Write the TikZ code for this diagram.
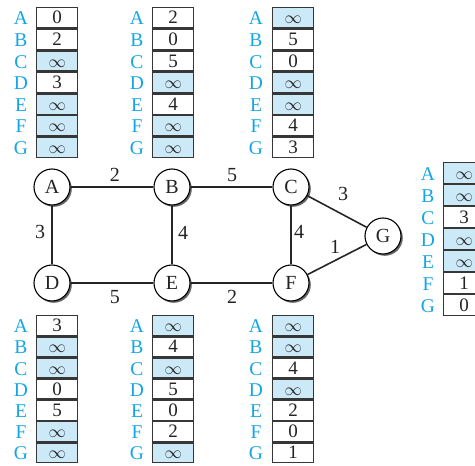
\documentclass[tikz,border=0pt]{standalone}
\usepackage{fontspec}
\setmainfont{Liberation Serif}
\usetikzlibrary{shadows}
\definecolor{lblblue}{RGB}{20,165,230}
\definecolor{cellfill}{RGB}{204,233,248}
\definecolor{celldraw}{RGB}{55,55,55}
\definecolor{txt}{RGB}{35,35,35}
\tikzset{
  vertex/.style={circle,draw=black,line width=1.1pt,fill=white,minimum size=36pt,inner sep=0pt,
    font=\fontsize{20}{20}\selectfont,text=txt,
    drop shadow={shadow xshift=1.8pt,shadow yshift=-1.8pt,fill=black!70,opacity=0.85}},
  edge/.style={line width=1.6pt,draw=black!85},
  wlabel/.style={font=\fontsize{20}{20}\selectfont,text=txt,inner sep=0pt},
  cell/.style={draw=celldraw,line width=1.3pt,minimum width=41pt,inner sep=0pt,anchor=west,
    font=\fontsize{19}{19}\selectfont,text=txt,text height=12pt,text depth=0pt},
  infcell/.style={cell,fill=cellfill},
  numcell/.style={cell,fill=white},
  rowlabel/.style={font=\fontsize{19.5}{19.5}\selectfont,text=lblblue,inner sep=0pt,
    text height=13pt,text depth=0pt}
}
% #1 name, #2 label x, #3 cell left x, #4 top y, #5 row height, #6 values
\newcommand\disttable[6]{%
  \foreach \v [count=\i] in {#6} {
    \pgfmathsetmacro\ymid{#4+(\i-0.5)*#5}
    \pgfmathsetmacro\hh{#5-1.4}
    \ifnum\pdfstrcmp{\v}{i}=0
      \node[infcell,minimum height=\hh pt] (#1-\i) at (#3,\ymid) {$\infty$};
    \else
      \node[numcell,minimum height=\hh pt] (#1-\i) at (#3,\ymid) {\v};
    \fi
    \node[rowlabel] (#1-l\i) at (#2,\ymid+0.5) {\ifcase\i\or A\or B\or C\or D\or E\or F\or G\fi};
  }
}
\begin{document}
\begin{tikzpicture}[x=1pt,y=-1pt]
\useasboundingbox (0,0) rectangle (475,466);
\clip (0,0) rectangle (475,466);
% tables
\disttable{tA}{21}{36}{7}{21.6}{0,2,i,3,i,i,i}
\disttable{tB}{137}{152}{7}{21.6}{2,0,5,i,4,i,i}
\disttable{tC}{256}{272}{7}{21.6}{i,5,0,i,i,4,3}
\disttable{tG}{428}{443}{162}{22}{i,i,3,i,i,1,0}
\disttable{tD}{21}{36}{315}{21.2}{3,i,i,0,5,i,i}
\disttable{tE}{137}{152}{315}{21.2}{i,4,i,5,0,2,i}
\disttable{tF}{256}{272}{315}{21.2}{i,i,4,i,2,0,1}
% vertices
\node[vertex] (A) at (52,187) {A};
\node[vertex] (B) at (172,187) {B};
\node[vertex] (C) at (291,187) {C};
\node[vertex] (D) at (52,283) {D};
\node[vertex] (E) at (172,283) {E};
\node[vertex] (F) at (291,283) {F};
\node[vertex] (G) at (383,236) {G};
% edges
\draw[edge] (A) -- (B);
\draw[edge] (B) -- (C);
\draw[edge] (A) -- (D);
\draw[edge] (B) -- (E);
\draw[edge] (C) -- (F);
\draw[edge] (C) -- (G);
\draw[edge] (F) -- (G);
\draw[edge] (D) -- (E);
\draw[edge] (E) -- (F);
% weights
\node[wlabel] (wAB) at (115,175) {2};
\node[wlabel] (wBC) at (232,175) {5};
\node[wlabel] (wAD) at (40,232) {3};
\node[wlabel] (wBE) at (183,233) {4};
\node[wlabel] (wCF) at (299,232) {4};
\node[wlabel] (wCG) at (343,194) {3};
\node[wlabel] (wFG) at (335,247) {1};
\node[wlabel] (wDE) at (115,297) {5};
\node[wlabel] (wEF) at (232,297) {2};
\end{tikzpicture}
\end{document}
